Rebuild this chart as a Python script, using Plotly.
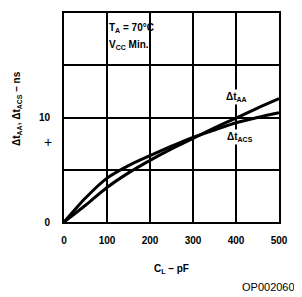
import plotly.graph_objects as go

cap_pf = [0, 50, 100, 150, 200, 250, 300, 350, 400, 450, 500]
dt_aa = [0, 1.6, 3.3, 4.7, 5.9, 7.0, 8.0, 9.0, 9.95, 10.9, 11.8]
dt_acs = [0, 2.3, 4.2, 5.4, 6.35, 7.25, 8.1, 8.8, 9.5, 10.0, 10.45]
x_ticks = [0, 100, 200, 300, 400, 500]
y_ticks = [0, 5, 10, 15, 20]
y_ticktext = ["0", "", "10", "", "20"]

FONT = "Liberation Sans, Arial, sans-serif"

fig = go.Figure()
for ys in (dt_aa, dt_acs):
    fig.add_trace(go.Scatter(x=cap_pf, y=ys, mode="lines",
                             line=dict(color="black", width=3, shape="spline", smoothing=0.8),
                             showlegend=False, hoverinfo="skip"))

fig.update_layout(
    width=294, height=289, autosize=False,
    margin=dict(l=56, r=23, t=3, b=75),
    paper_bgcolor="white", plot_bgcolor="white",
    font=dict(family=FONT, size=10, color="black"),
    xaxis=dict(range=[0, 500], tickvals=x_ticks, ticks="", showgrid=True,
               gridcolor="black", gridwidth=2, showline=True, linecolor="black",
               linewidth=2, mirror=True, zeroline=False, ticklabelstandoff=8,
               tickfont=dict(family=FONT, size=10, weight="bold")),
    yaxis=dict(range=[0, 20], tickvals=y_ticks, ticktext=y_ticktext, ticks="",
               showgrid=True, gridcolor="black", gridwidth=2, showline=True,
               linecolor="black", linewidth=2, mirror=True, zeroline=False,
               ticklabelstandoff=10,
               tickfont=dict(family=FONT, size=10, weight="bold")),
)

ann = [
    dict(text="T<sub>A</sub> = 70°C", x=100, y=18.6, xanchor="left"),
    dict(text="V<sub>CC</sub> Min.", x=100, y=16.9, xanchor="left"),
    dict(text="Δt<sub>AA</sub>", x=400, y=12.0, xanchor="center", bgcolor="white"),
    dict(text="Δt<sub>ACS</sub>", x=410, y=8.15, xanchor="center", bgcolor="white"),
]
for a in ann:
    fig.add_annotation(xref="x", yref="y", showarrow=False, yanchor="middle",
                       font=dict(family=FONT, size=10, weight="bold"), **a)

fig.add_annotation(xref="paper", yref="paper", x=0.5, y=-0.227, xanchor="center",
                   yanchor="middle", showarrow=False,
                   text="C<sub>L</sub> – pF", font=dict(family=FONT, size=10, weight="bold"))
fig.add_annotation(xref="paper", yref="paper", x=-0.219, y=0.545, xanchor="center",
                   yanchor="middle", showarrow=False, textangle=-90,
                   text="Δt<sub>AA</sub>, Δt<sub>ACS</sub> – ns",
                   font=dict(family=FONT, size=10, weight="bold"))
fig.add_annotation(xref="paper", yref="paper", x=-0.074, y=0.384, xanchor="center",
                   yanchor="middle", showarrow=False, text="+",
                   font=dict(family=FONT, size=14))
fig.add_annotation(xref="paper", yref="paper", x=1.084, y=-0.313, xanchor="right",
                   yanchor="middle", showarrow=False, text="OP002060",
                   font=dict(family=FONT, size=11))

fig.write_html("out.html")
